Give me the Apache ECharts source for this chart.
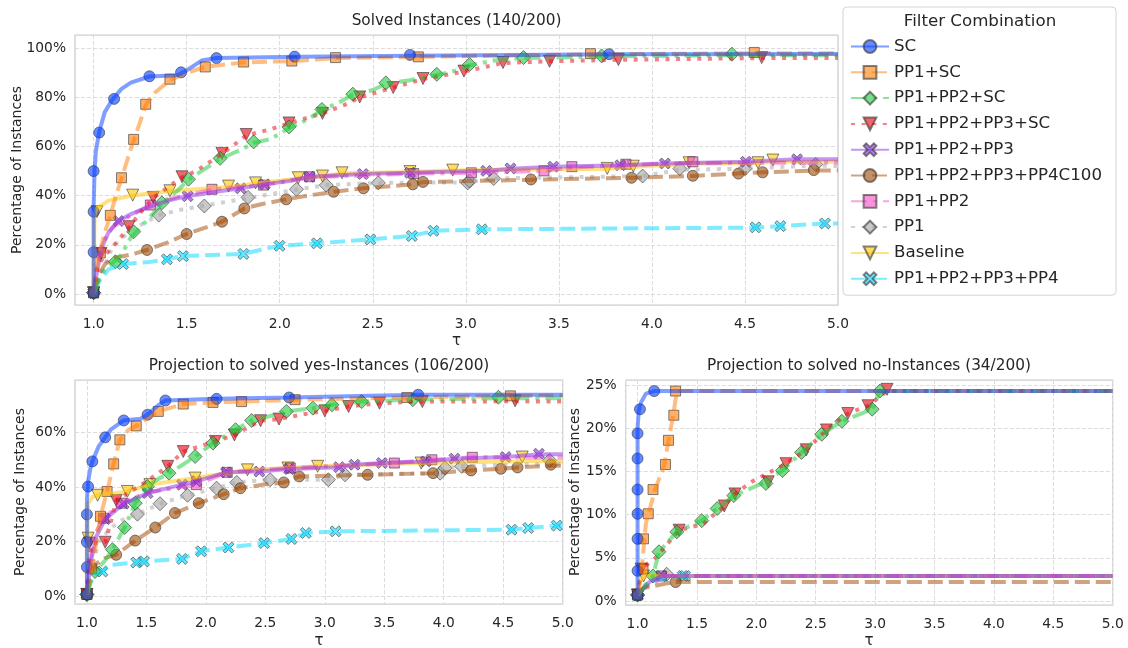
<!DOCTYPE html>
<html>
<head>
<meta charset="utf-8">
<script src="https://cdn.jsdelivr.net/npm/echarts@6/dist/echarts.min.js"></script>
<style>
  html, body { margin: 0; padding: 0; background: #fff; }
  #chart { width: 1128px; height: 648px; }
</style>
</head>
<body>
<div id="chart"></div>
<script>
const FONT = 'DejaVu Sans';
const TXT = '#262626';

const names = ['SC', 'PP1+SC', 'PP1+PP2+SC', 'PP1+PP2+PP3+SC', 'PP1+PP2+PP3',
  'PP1+PP2+PP3+PP4C100', 'PP1+PP2', 'PP1', 'Baseline', 'PP1+PP2+PP3+PP4'];
const colors = ['#023eff', '#ff7c00', '#1ac938', '#e8000b', '#8b2be2',
  '#9f4800', '#f14cc1', '#a3a3a3', '#ffc400', '#00d7ff'];
const xPath = 'path://M0,2L2,0L5,3L8,0L10,2L7,5L10,8L8,10L5,7L2,10L0,8L3,5Z';
const symbols = ['circle', 'rect', 'diamond', 'triangle', xPath, 'circle', 'rect', 'diamond', 'triangle', xPath];
const rotations = [0, 0, 0, 180, 0, 0, 0, 0, 180, 0];
const sizes = [11, 10, 14, 12, 11, 11, 10, 14, 12, 11];
const dashes = ['solid', [15, 6], [16, 6, 4, 6], [4, 6.6], 'solid', [15, 6], [16, 6, 4, 6], [4, 6.6], 'solid', [15, 6]];

// ---- Solved instances (all) ----
const topSC = [[1,0.5],[1,35],[1.005,50],[1.012,58],[1.03,66],[1.06,74],[1.1,79],[1.15,83.5],[1.2,86],[1.3,88.5],[1.45,89],[1.5,91],[1.58,95],[1.66,96],[2.1,96.5],[2.7,97],[3.8,97.6],[5,97.7]];
const topSCMarks = [[1,0.5],[1,17],[1,33.5],[1,50],[1.03,65.7],[1.11,79.4],[1.3,88.6],[1.47,90.2],[1.66,96],[2.08,96.6],[2.7,97.3],[3.77,97.6]];
const topPP1SC = [[1,0.5],[1.01,8],[1.03,16],[1.06,25],[1.09,32],[1.12,40],[1.15,47],[1.2,59],[1.25,70],[1.28,77],[1.33,82],[1.41,87],[1.5,90],[1.6,92.4],[1.8,94.2],[2.07,94.8],[2.3,96],[2.75,96.5],[3.67,97.5],[4.55,98],[5,98]];
const topPP1SCMarks = [[1,0.5],[1.036,16.7],[1.09,32],[1.15,47.3],[1.215,62.9],[1.28,77.2],[1.41,87.4],[1.6,92.4],[1.806,94.4],[2.065,94.8],[2.3,96.2],[2.745,96.5],[3.67,97.8],[4.55,98.3]];
const topPP1PP2SC = [[1,0.5],[1.03,6],[1.06,10],[1.1,12.5],[1.15,16],[1.2,23],[1.3,31],[1.37,37],[1.45,42],[1.51,46.5],[1.6,51],[1.68,55],[1.8,59],[1.86,61.5],[1.95,63],[2.05,67.5],[2.15,71],[2.23,75],[2.32,78],[2.39,81],[2.5,83],[2.57,85.5],[2.7,87],[2.84,89],[2.95,91],[3.02,93],[3.15,95],[3.31,96],[3.73,96.7],[4.43,97.2],[5,97.2]];
const topPP1PP2SCMarks = [[1,0.5],[1.117,13.1],[1.215,25.3],[1.367,37.1],[1.51,46.7],[1.68,55.2],[1.86,61.9],[2.05,68],[2.227,75.1],[2.393,81.3],[2.57,85.9],[2.844,89.4],[3.02,93.4],[3.31,96.2],[3.73,96.9],[4.43,97.6]];
const topPP1PP2PP3SC = [[1,0.5],[1.02,10],[1.05,15],[1.1,19],[1.19,27],[1.25,33],[1.32,39],[1.4,43.5],[1.475,47.5],[1.55,50],[1.69,57],[1.76,61],[1.82,64.5],[1.95,67],[2.05,69.5],[2.23,73.5],[2.35,77],[2.43,80],[2.61,84],[2.77,87.5],[2.99,90.5],[3.2,94],[3.45,94.7],[3.82,95.3],[4.59,96],[5,96]];
const topPP1PP2PP3SCMarks = [[1,0.5],[1.04,16.5],[1.19,27.4],[1.32,39.3],[1.475,47.7],[1.69,57.2],[1.82,64.9],[2.05,69.6],[2.23,73.5],[2.43,80.2],[2.61,84],[2.77,87.7],[2.99,90.7],[3.2,94.2],[3.45,94.7],[3.82,95.4],[4.59,96.2]];
const topPP1PP2PP3 = [[1,0.5],[1.02,10],[1.05,20],[1.08,25],[1.13,29.5],[1.2,32.5],[1.3,35.5],[1.4,38],[1.5,39.8],[1.65,41.5],[1.79,43],[1.92,44.6],[2.05,46],[2.16,47.7],[2.45,48.8],[2.7,49.3],[3.11,50.1],[3.24,51],[3.47,51.8],[3.83,52.4],[4.07,53.1],[4.5,53.8],[4.78,54.8],[5,54.8]];
const topPP1PP2PP3Marks = [[1,0.5],[1.134,29.7],[1.505,39.8],[1.79,43],[1.92,44.6],[2.16,47.7],[2.447,48.8],[2.7,49.3],[3.11,50.1],[3.24,51.1],[3.47,51.8],[3.83,52.4],[4.07,53.1],[4.505,53.8],[4.78,54.8]];
const topPP4C100 = [[1,0.5],[1.03,8],[1.06,12],[1.1,14.5],[1.2,16],[1.29,18],[1.4,21],[1.5,24.4],[1.6,27],[1.69,29.4],[1.81,34.8],[1.9,36.5],[2.035,38.5],[2.15,40],[2.29,41.6],[2.45,43],[2.7,44.5],[2.77,45.5],[3.35,46.5],[3.89,47.3],[4.22,48],[4.46,49],[4.6,49.5],[4.87,50.2],[5,50.2]];
const topPP4C100Marks = [[1,0.5],[1.287,17.9],[1.5,24.4],[1.69,29.4],[1.81,34.8],[2.035,38.5],[2.29,41.6],[2.45,43],[2.715,44.6],[2.77,45.6],[3.35,46.6],[3.89,47.3],[4.22,48.1],[4.465,49],[4.595,49.5],[4.87,50.4]];
const topPP1PP2 = [[1,0.5],[1.02,12],[1.05,21],[1.1,27],[1.2,32],[1.3,36],[1.45,39.5],[1.64,42.5],[1.91,44.3],[2.16,47.5],[2.72,49],[3.03,49.3],[3.42,50.1],[3.57,51.5],[3.86,52.5],[4.22,53.3],[5,53.5]];
const topPP1PP2Marks = [[1,0.5],[1.305,36.2],[1.636,42.6],[1.913,44.3],[2.16,47.7],[2.72,49],[3.03,49.3],[3.42,50.1],[3.57,51.8],[3.86,52.8],[4.22,53.8]];
const topPP1 = [[1,0.5],[1.05,10],[1.1,19],[1.2,26],[1.35,32],[1.45,34],[1.6,36],[1.83,39],[2.09,42.5],[2.25,44.3],[2.53,45.2],[3.01,45.4],[3.15,47],[3.95,48],[4.15,50.5],[4.5,51],[4.88,52.3],[5,52]];
const topPP1Marks = [[1,0.5],[1.35,32.1],[1.595,35.8],[1.83,39.3],[2.09,42.6],[2.25,44.3],[2.53,45.2],[3.01,45.2],[3.02,46],[3.15,47],[3.95,48],[4.15,51],[4.5,51],[4.88,52.7]];
const topBaseline = [[1,0.5],[1.005,33],[1.02,35],[1.08,38],[1.2,40],[1.4,41.8],[1.72,43.5],[1.87,45],[2.1,47],[2.23,47.8],[2.33,49],[2.7,49.6],[2.93,50.2],[3.76,51],[3.9,51.8],[4.2,53],[4.57,53.3],[4.65,53.8],[5,53.8]];
const topBaselineMarks = [[1,0.5],[1.018,33.5],[1.21,40.2],[1.41,42],[1.725,43.9],[1.87,45.2],[2.1,47.3],[2.23,48],[2.335,49.3],[2.7,49.8],[2.93,50.4],[3.76,51.1],[3.9,52],[4.2,53.4],[4.57,53.4],[4.65,54.5]];
const topPP4 = [[1,0.5],[1.03,5],[1.08,10],[1.158,12.2],[1.3,13],[1.394,14.1],[1.48,15.4],[1.805,16.3],[1.9,18],[2.0,19.6],[2.2,20.6],[2.49,22.2],[2.71,23.6],[2.83,25.7],[3.09,26.3],[4.55,27],[4.69,27.6],[4.93,28.7],[5,28.7]];
const topPP4Marks = [[1,0.5],[1.158,12.2],[1.394,14.1],[1.48,15.4],[1.805,16.3],[1.999,19.6],[2.2,20.6],[2.487,22.2],[2.71,23.6],[2.826,25.7],[3.086,26.3],[4.557,27.1],[4.69,27.6],[4.93,28.7]];

// ---- yes-instances ----
const yesSC = [[1,0.7],[1,35],[1.01,42],[1.03,47],[1.046,49.4],[1.1,55],[1.154,58.2],[1.2,61],[1.31,64.4],[1.45,65],[1.51,66.5],[1.6,70],[1.66,71.7],[2.09,72.3],[2.7,72.8],[3.785,73.8],[5,73.8]];
const yesSCMarks = [[1,0.7],[1,10.7],[1,19.9],[1,30],[1.01,40.2],[1.046,49.4],[1.154,58.2],[1.31,64.4],[1.51,66.5],[1.66,71.7],[2.09,72.3],[2.7,72.8],[3.785,73.8]];
const yesPP1SC = [[1,0.7],[1.04,10],[1.08,20],[1.114,29.3],[1.17,38.4],[1.225,48.5],[1.277,57.3],[1.35,61],[1.415,62.4],[1.5,65],[1.6,67.7],[1.81,70.4],[2.06,71],[2.3,71.3],[2.75,72],[3.69,72.8],[4.56,73.4],[5,73.5]];
const yesPP1SCMarks = [[1,0.7],[1.04,10.1],[1.114,29.3],[1.17,38.4],[1.225,48.5],[1.277,57.3],[1.415,62.4],[1.6,67.7],[1.81,70.4],[2.06,71],[2.3,71.3],[2.75,72],[3.69,72.8],[4.56,73.4]];
const yesPP1PP2SC = [[1,0.7],[1.03,5],[1.068,9.1],[1.15,13],[1.215,17.1],[1.317,25.2],[1.406,34.1],[1.508,40.2],[1.6,43],[1.69,45.1],[1.8,48],[1.91,51.2],[2.06,56.1],[2.25,61],[2.385,64.4],[2.5,65.5],[2.677,67.7],[2.9,68.9],[3.06,70.1],[3.31,71.3],[3.74,72],[4.46,72.5],[5,72.5]];
const yesPP1PP2SCMarks = [[1,0.7],[1.068,9.1],[1.215,17.1],[1.317,25.2],[1.406,34.1],[1.508,40.2],[1.69,45.1],[1.91,51.2],[2.06,56.1],[2.25,61],[2.385,64.4],[2.677,67.7],[2.9,68.9],[3.06,70.1],[3.31,71.3],[3.74,72],[4.46,72.9]];
const yesPP1PP2PP3SC = [[1,0.7],[1.02,15],[1.05,19.5],[1.154,19.8],[1.2,27],[1.246,35.1],[1.35,38],[1.5,42],[1.68,47.6],[1.81,53],[1.95,55],[2.08,56.7],[2.24,59.1],[2.46,64.3],[2.615,64.9],[2.8,66.5],[3.0,67.9],[3.2,69.5],[3.46,70.7],[3.82,71.3],[4.6,71.4],[5,71.3]];
const yesPP1PP2PP3SCMarks = [[1,0.7],[1.02,19.5],[1.154,19.8],[1.246,35.1],[1.68,47.6],[1.81,53],[2.08,56.7],[2.24,59.1],[2.46,64.3],[2.615,64.9],[3,67.9],[3.2,69.5],[3.46,70.7],[3.82,71.3],[4.6,71.6]];
const yesPP1PP2PP3 = [[1,0.7],[1.03,12],[1.08,22],[1.154,28.3],[1.31,33.9],[1.51,37.8],[1.8,40.9],[1.92,42.1],[2.17,45.4],[2.45,45.7],[2.7,46.6],[3.12,47.3],[3.25,48.2],[3.48,48.8],[3.85,49.4],[4.09,50.4],[4.52,51],[4.8,52],[5,52]];
const yesPP1PP2PP3Marks = [[1,0.7],[1.154,28.3],[1.31,33.9],[1.51,37.8],[1.8,40.9],[1.92,42.1],[2.17,45.4],[2.45,45.7],[2.7,46.6],[3.12,47.3],[3.25,48.2],[3.48,48.8],[3.85,49.4],[4.09,50.4],[4.52,51],[4.8,52.2]];
const yesPP4C100 = [[1,0.7],[1.03,8],[1.08,12],[1.15,14],[1.246,15.2],[1.406,20.4],[1.575,25.2],[1.74,30.5],[1.94,34.1],[2.15,37.4],[2.29,39.6],[2.5,41],[2.655,41.7],[2.785,43.9],[3.36,44.5],[3.91,45.1],[4.23,46.1],[4.48,46.7],[4.62,47.2],[4.9,47.8],[5,47.8]];
const yesPP4C100Marks = [[1,0.7],[1.246,15.2],[1.406,20.4],[1.575,25.2],[1.74,30.5],[1.94,34.1],[2.15,37.4],[2.29,39.6],[2.655,41.7],[2.785,43.9],[3.36,44.5],[3.91,45.1],[4.23,46.1],[4.48,46.7],[4.62,47.2],[4.9,48.2]];
const yesPP1PP2 = [[1,0.7],[1.03,14],[1.07,23],[1.14,28.6],[1.29,34.1],[1.5,38],[1.92,40.9],[2.18,45.4],[2.71,47],[3.2,48],[3.585,48.8],[3.9,50],[4.24,50.9],[5,50.8]];
const yesPP1PP2Marks = [[1,0.7],[1.14,28.6],[1.29,34.1],[1.92,40.9],[2.18,45.4],[2.71,47],[3.585,48.8],[3.9,50],[4.24,50.9]];
const yesPP1 = [[1,0.7],[1.05,12],[1.1,20],[1.2,25],[1.3,28],[1.425,30.1],[1.615,33.9],[1.846,37],[2.09,39.6],[2.26,41.7],[2.54,42.7],[3.03,42.7],[3.17,44.5],[3.97,45.1],[4.01,47],[4.15,47.6],[4.89,48.5],[5,48.5]];
const yesPP1Marks = [[1,0.7],[1.425,30.1],[1.615,33.9],[1.846,37],[2.09,39.6],[2.26,41.7],[2.54,42.7],[3.03,42.7],[3.17,44.5],[3.97,45.1],[4.01,47],[4.15,47.6],[4.89,49.8]];
const yesBaseline = [[1,0.7],[1.005,21],[1.01,34],[1.05,36.5],[1.09,37],[1.34,38.4],[1.53,40.9],[1.91,43.3],[2.35,46.3],[2.69,47],[2.94,47.6],[3.81,48.8],[4.66,49.5],[5,49.5]];
const yesBaselineMarks = [[1,0.7],[1.01,21.3],[1.09,37],[1.34,38.4],[1.53,40.9],[1.91,43.3],[2.35,46.3],[2.69,47],[2.94,47.6],[3.81,48.8],[4.66,51]];
const yesPP4 = [[1,0.7],[1.03,5],[1.07,8],[1.13,9.1],[1.2,11.5],[1.415,12.4],[1.48,12.8],[1.8,13.7],[1.96,16.5],[2.19,17.9],[2.49,19.5],[2.72,21],[2.84,23.2],[3.09,23.8],[4.57,24.4],[4.71,25],[4.95,25.9],[5,25.9]];
const yesPP4Marks = [[1,0.7],[1.13,9.1],[1.415,12.4],[1.48,12.8],[1.8,13.7],[1.96,16.5],[2.19,17.9],[2.49,19.5],[2.72,21],[2.84,23.2],[3.09,23.8],[4.57,24.4],[4.71,25],[4.95,25.9]];

// ---- no-instances ----
const noSC = [[1,0.7],[1,20],[1.01,22],[1.03,23],[1.07,24],[1.14,24.3],[5,24.3]];
const noSCMarks = [[1,0.7],[1,3.5],[1,7.2],[1,10.1],[1,12.9],[1,16.5],[1,19.4],[1.02,22.2],[1.14,24.3]];
const noPP1SC = [[1,0.7],[1.03,3],[1.05,6],[1.07,9],[1.1,10.5],[1.15,13],[1.22,15.5],[1.26,18.5],[1.3,21.5],[1.33,24.3],[5,24.3]];
const noPP1SCMarks = [[1,0.7],[1.046,3.7],[1.05,7.2],[1.09,10.1],[1.13,12.9],[1.235,15.8],[1.26,18.6],[1.305,21.5],[1.32,24.3]];
const noPP1PP2SC = [[1,0.7],[1.05,1.5],[1.13,2.9],[1.18,5.7],[1.33,8],[1.54,9.3],[1.67,10.7],[1.81,12.2],[2.05,13.6],[2.22,15.1],[2.38,17.2],[2.55,19.3],[2.72,20.8],[2.975,22.2],[3.04,24.3],[5,24.3]];
const noPP1PP2SCMarks = [[1,0.7],[1.13,2.9],[1.18,5.7],[1.33,8],[1.54,9.3],[1.67,10.7],[1.81,12.2],[2.08,13.6],[2.22,15.1],[2.38,17.2],[2.55,19.3],[2.72,20.8],[2.975,22.2],[3.04,24.3]];
const noPP1PP2PP3SC = [[1,0.7],[1.03,3.7],[1.15,5],[1.35,8.2],[1.55,8.9],[1.73,11],[1.82,12.4],[1.96,13.8],[2.25,15.9],[2.42,17.5],[2.59,19.8],[2.77,21.7],[2.94,22.6],[3.1,24.3],[5,24.3]];
const noPP1PP2PP3SCMarks = [[1,0.7],[1.03,3.7],[1.35,8.2],[1.73,11],[1.82,12.4],[2.1,13.8],[2.25,15.9],[2.42,17.5],[2.59,19.8],[2.77,21.7],[2.94,22.6],[3.1,24.5]];
const noPP1PP2PP3 = [[1,0.7],[1.05,1.5],[1.1,2.2],[1.2,2.9],[5,2.9]];
const noPP1PP2PP3Marks = [[1,0.7],[1.2,2.9]];
const noPP4C100 = [[1,0.7],[1.05,1.5],[1.3,2.2],[5,2.2]];
const noPP4C100Marks = [[1,0.7],[1.32,2.2]];
const noPP1PP2 = [[1,0.7],[1.05,1.5],[1.15,2.2],[1.22,2.9],[5,2.9]];
const noPP1PP2Marks = [[1,0.7],[1.2,2.9]];
const noPP1 = [[1,0.7],[1.08,2.2],[1.25,2.9],[5,2.9]];
const noPP1Marks = [[1,0.7],[1.245,3.1]];
const noBaseline = [[1,0.7],[1.02,2.2],[1.05,2.9],[5,2.9]];
const noBaselineMarks = [[1,0.7],[1.05,2.9]];
const noPP4 = [[1,0.7],[1.1,2.2],[1.35,2.9],[5,2.9]];
const noPP4Marks = [[1,0.7],[1.38,2.9],[1.4,2.9]];

const topLines = [topSC, topPP1SC, topPP1PP2SC, topPP1PP2PP3SC, topPP1PP2PP3, topPP4C100, topPP1PP2, topPP1, topBaseline, topPP4];
const topMarks = [topSCMarks, topPP1SCMarks, topPP1PP2SCMarks, topPP1PP2PP3SCMarks, topPP1PP2PP3Marks, topPP4C100Marks, topPP1PP2Marks, topPP1Marks, topBaselineMarks, topPP4Marks];
const yesLines = [yesSC, yesPP1SC, yesPP1PP2SC, yesPP1PP2PP3SC, yesPP1PP2PP3, yesPP4C100, yesPP1PP2, yesPP1, yesBaseline, yesPP4];
const yesMarks = [yesSCMarks, yesPP1SCMarks, yesPP1PP2SCMarks, yesPP1PP2PP3SCMarks, yesPP1PP2PP3Marks, yesPP4C100Marks, yesPP1PP2Marks, yesPP1Marks, yesBaselineMarks, yesPP4Marks];
const noLines = [noSC, noPP1SC, noPP1PP2SC, noPP1PP2PP3SC, noPP1PP2PP3, noPP4C100, noPP1PP2, noPP1, noBaseline, noPP4];
const noMarks = [noSCMarks, noPP1SCMarks, noPP1PP2SCMarks, noPP1PP2PP3SCMarks, noPP1PP2PP3Marks, noPP4C100Marks, noPP1PP2Marks, noPP1Marks, noBaselineMarks, noPP4Marks];

// drawn last-to-first so SC ends up on top, like the original
function panelSeries(idx, lines, marks) {
  let out = [];
  for (let i = names.length - 1; i >= 0; i--) {
    let item = { color: colors[i], opacity: 0.6, borderColor: '#333', borderWidth: 1 };
    out.push({
      type: 'line', name: names[i], xAxisIndex: idx, yAxisIndex: idx,
      data: lines[i], showSymbol: false, symbol: symbols[i], symbolRotate: rotations[i],
      clip: false, silent: true,
      lineStyle: { color: colors[i], width: 4, type: dashes[i], opacity: 0.5 },
      itemStyle: item
    });
    out.push({
      type: 'scatter', name: names[i], xAxisIndex: idx, yAxisIndex: idx,
      data: marks[i], symbol: symbols[i], symbolRotate: rotations[i], symbolSize: sizes[i],
      clip: false, silent: true, itemStyle: item
    });
  }
  return out;
}

function xAx(idx) {
  return {
    type: 'value', gridIndex: idx, min: 0.9, max: 5, minInterval: 0.5, maxInterval: 0.5,
    axisLine: { show: false }, axisTick: { show: false },
    axisLabel: { showMinLabel: false, margin: 12, color: TXT, fontFamily: FONT, fontSize: 13.8,
      formatter: function(v) { return v.toFixed(1); } },
    splitLine: { show: true, lineStyle: { color: '#dcdcdc', width: 1, type: [4, 2] } }
  };
}
function yAx(idx, min, max, step) {
  return {
    type: 'value', gridIndex: idx, min: min, max: max, minInterval: step, maxInterval: step,
    axisLine: { show: false }, axisTick: { show: false },
    axisLabel: { showMinLabel: false, showMaxLabel: false, margin: 9, color: TXT, fontFamily: FONT, fontSize: 13.8,
      formatter: function(v) { return Math.round(v) + '%'; } },
    splitLine: { show: true, lineStyle: { color: '#dcdcdc', width: 1, type: [4, 2] } }
  };
}

function label(x, y, text, size, rot) {
  return { type: 'text', x: x, y: y, rotation: rot || 0, z: 100,
    style: { text: text, fill: TXT, fontFamily: FONT, fontSize: size, align: 'center', verticalAlign: 'middle' } };
}

const chart = echarts.init(document.getElementById('chart'));
chart.setOption({
  animation: false,
  backgroundColor: '#fff',
  grid: [
    { left: 75, top: 35, width: 763, height: 270, show: true, borderColor: '#cccccc', borderWidth: 1.25 },
    { left: 75, top: 380, width: 487.7, height: 224, show: true, borderColor: '#cccccc', borderWidth: 1.25 },
    { left: 625.7, top: 380, width: 487, height: 225, show: true, borderColor: '#cccccc', borderWidth: 1.25 }
  ],
  xAxis: [xAx(0), xAx(1), xAx(2)],
  yAxis: [yAx(0, -4.5, 105.4, 20), yAx(1, -2.8, 79.2, 20), yAx(2, -0.46, 25.58, 5)],
  legend: {
    data: names, orient: 'vertical', left: 843, top: 7,
    padding: [31, 14, 8, 7], itemWidth: 38, itemHeight: 16, itemGap: 8.8,
    textStyle: { color: TXT, fontFamily: FONT, fontSize: 16.67, lineHeight: 16 },
    backgroundColor: '#fff', borderColor: '#d4d4d4', borderWidth: 1, borderRadius: 4,
    selectedMode: false
  },
  graphic: [
    label(456.5, 21, 'Solved Instances (140/200)', 15.3),
    label(319, 366, 'Projection to solved yes-Instances (106/200)', 15.3),
    label(869, 366, 'Projection to solved no-Instances (34/200)', 15.3),
    label(456.5, 341, 'τ', 15),
    label(319, 641, 'τ', 15),
    label(869, 641, 'τ', 15),
    label(17, 170, 'Percentage of Instances', 14, Math.PI / 2),
    label(20, 492, 'Percentage of Instances', 14, Math.PI / 2),
    label(575, 492, 'Percentage of Instances', 14, Math.PI / 2),
    label(980, 22, 'Filter Combination', 16.67)
  ],
  series: [].concat(panelSeries(0, topLines, topMarks), panelSeries(1, yesLines, yesMarks), panelSeries(2, noLines, noMarks))
});
</script>
</body>
</html>
